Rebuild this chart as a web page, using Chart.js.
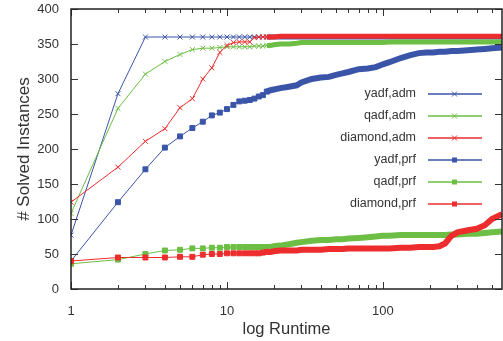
<!DOCTYPE html>
<html>
<head>
<meta charset="utf-8">
<script src="https://cdn.jsdelivr.net/npm/chart.js@4"></script>
<style>
body{margin:0;background:#fff;}
canvas{display:block;}
</style>
</head>
<body>
<canvas id="chart" width="503" height="341"></canvas>
<script>

/* runtime in seconds (log axis) */
const runtime = [1,2,3,4,5,6,7,8,9,10,11,12,13,14,15,16,17,18,19,20,22,25,28,30,35,40,45,50,55,60,70,80,90,100,110,130,150,170,190,210,230,250,275,300,350,400,450,500,580];

/* solved instances */
const yadfAdm = [77,279,360,360,360,360,360,360,360,360,360,360,360,360,360,360,360,360,360,360,360,360,360,360,360,360,360,360,360,360,360,360,360,360,360,360,360,360,360,360,360,360,360,360,360,360,360,360,360];
const qadfAdm = [108,258,307,325,335,342,344,344,345,346,346,346,346,346,347,347,347,348,348,349,350,350,351,352,352,352,352,352,352,352,352,352,352,352,353,353,353,353,353,353,353,353,353,353,353,353,353,353,353];
const diamondAdm = [124,174,211,229,259,272,300,316,338,348,352,353,353,353,359,360,360,360,360,360,361,361,361,361,361,361,361,361,361,361,361,361,361,361,361,361,361,361,361,361,361,361,361,361,361,361,361,361,361];
const yadfPrf = [40,124,171,202,218,230,239,248,252,257,263,268,269,270,272,275,277,282,284,285,287,289,291,295,300,302,303,306,308,310,314,315,317,321,324,330,334,337,338,338,339,339,340,340,341,342,343,344,345];
const qadfPrf = [36,42,50,55,56,58,58,59,59,60,60,60,60,60,60,60,60,60,60,61,62,64,66,67,69,70,70,71,71,72,73,74,75,76,76,77,77,77,77,77,77,77,78,78,79,79,80,81,82];
const diamondPrf = [40,45,45,45,46,46,49,50,50,51,51,51,51,51,51,51,52,53,53,54,55,55,55,56,56,56,57,57,57,58,58,58,58,58,58,59,59,60,60,60,61,65,76,81,84,86,91,100,107];

const labels = ["yadf,adm","qadf,adm","diamond,adm","yadf,prf","qadf,prf","diamond,prf"];
const series = [yadfAdm, qadfAdm, diamondAdm, yadfPrf, qadfPrf, diamondPrf];

const blue = "#3a55a8", green = "#6dbe45", red = "#ed2d2d";
const colors = [blue, green, red, blue, green, red];

const font = "'Liberation Sans', Arial, sans-serif";


const datasets = series.map((values, i) => {
  const prf = i >= 3;
  return {
    label: labels[i],
    data: runtime.map((t, k) => ({x: t, y: values[k]})),
    borderColor: colors[i],
    backgroundColor: colors[i],
    borderWidth: 1,
    pointStyle: prf ? "rect" : "crossRot",
    pointRadius: ctx => runtime[ctx.dataIndex] <= 18 ? 3.5 : 0,
    pointBorderWidth: 1,
    segment: {
      borderWidth: ctx => runtime[ctx.p0DataIndex] >= 18 ? (prf ? 6 : 5) : 1
    },
    order: 5 - i
  };
});


/* gnuplot style box with inner ticks */

const frame = {
  id: "frame",
  afterDatasetsDraw(chart) {
    const {ctx, chartArea: a, scales: {x, y}} = chart;
    ctx.save();
    ctx.strokeStyle = "#333";
    ctx.lineWidth = 1;
    ctx.beginPath();
    for (let d = 1; d <= 1000; d *= 10) {
      for (let m = 1; m < 10; m++) {
        const v = d * m;
        if (v > x.max) break;
        const px = Math.round(x.getPixelForValue(v)) + 0.5;
        const len = m === 1 ? 7 : 4;
        ctx.moveTo(px, a.bottom); ctx.lineTo(px, a.bottom - len);
        ctx.moveTo(px, a.top); ctx.lineTo(px, a.top + len);
      }
    }
    y.ticks.forEach(t => {
      const py = Math.round(y.getPixelForValue(t.value)) + 0.5;
      ctx.moveTo(a.left, py); ctx.lineTo(a.left + 7, py);
      ctx.moveTo(a.right, py); ctx.lineTo(a.right - 7, py);
    });
    ctx.stroke();
    ctx.strokeStyle = "#222";
    ctx.lineWidth = 1.5;
    ctx.strokeRect(a.left, a.top, a.right - a.left, a.bottom - a.top);
    ctx.restore();
  }
};


/* legend inside the plot */

const keyBox = {
  id: "keyBox",
  afterDraw(chart) {
    const ctx = chart.ctx;
    ctx.save();
    ctx.font = "12.5px " + font;
    ctx.textAlign = "right";
    ctx.textBaseline = "middle";
    chart.data.datasets.forEach((ds, i) => {
      const y = 94 + i * 22;
      ctx.fillStyle = "#333";
      ctx.fillText(ds.label, 416, y);
      ctx.strokeStyle = ds.borderColor;
      ctx.fillStyle = ds.borderColor;
      ctx.lineWidth = 1.5;
      ctx.beginPath();
      ctx.moveTo(428, y); ctx.lineTo(482, y);
      ctx.stroke();
      ctx.lineWidth = 1;
      if (ds.pointStyle === "rect") {
        ctx.fillRect(452, y - 2.5, 5, 5);
      } else {
        ctx.beginPath();
        ctx.moveTo(452, y - 2.5); ctx.lineTo(457, y + 2.5);
        ctx.moveTo(457, y - 2.5); ctx.lineTo(452, y + 2.5);
        ctx.stroke();
      }
    });
    ctx.restore();
  }
};


new Chart(document.getElementById("chart"), {

type: "line",

data: {datasets: datasets},

options: {
  responsive: false,
  devicePixelRatio: 1,
  animation: false,
  events: [],
  layout: {autoPadding: false, padding: {top: 9, right: 1, left: 0, bottom: 0}},
  plugins: {legend: {display: false}, tooltip: {enabled: false}},
  scales: {
    x: {
      type: "logarithmic",
      min: 1,
      max: 580,
      grid: {display: false, drawTicks: false},
      border: {display: false},
      ticks: {
        autoSkip: false,
        maxRotation: 0,
        padding: 15,
        color: "#333",
        font: {family: font, size: 13},
        callback: v => [1, 10, 100].includes(v) ? String(v) : ""
      },
      title: {display: true, text: "log Runtime", color: "#333", font: {family: font, size: 16.5}, padding: {top: 0, bottom: 2}},
      afterFit: s => { s.height = 52; s.paddingLeft = 0; s.paddingRight = 0; }
    },
    y: {
      min: 0,
      max: 400,
      grid: {display: false, drawTicks: false},
      border: {display: false},
      ticks: {stepSize: 50, padding: 12, color: "#333", font: {family: font, size: 13}},
      title: {display: true, text: "# Solved Instances", color: "#333", font: {family: font, size: 17}, padding: {top: 14, bottom: 0}},
      afterFit: s => { s.width = 71; s.paddingTop = 0; s.paddingBottom = 0; }
    }
  }
},

plugins: [frame, keyBox]

});

</script>
</body>
</html>
